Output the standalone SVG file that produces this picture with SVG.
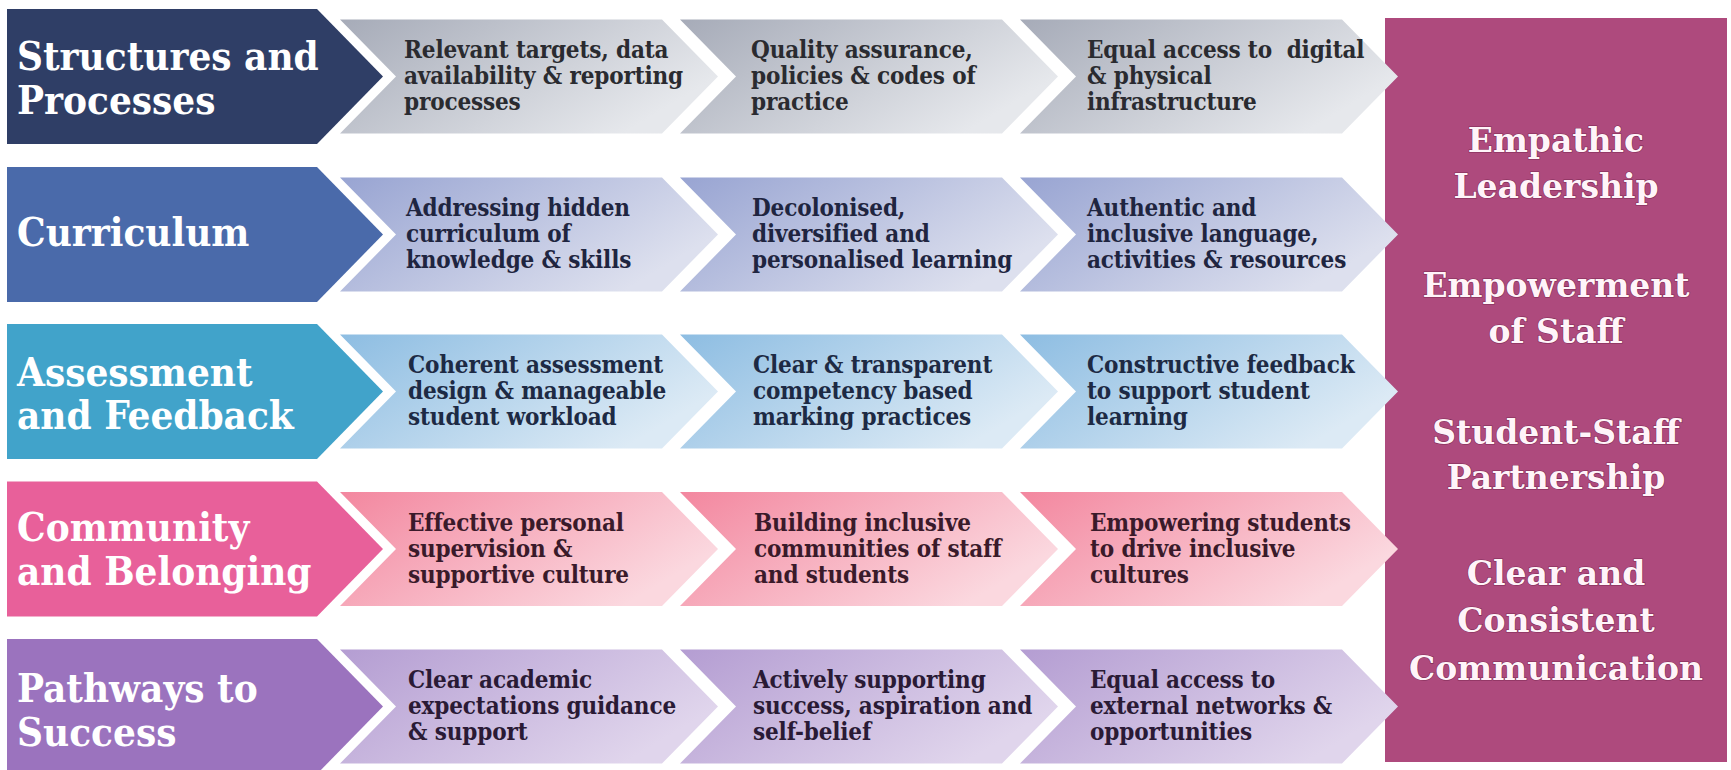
<svg xmlns="http://www.w3.org/2000/svg" width="1731" height="770" viewBox="0 0 1731 770">
<style>
.hd{font-family:"DejaVu Serif Condensed","DejaVu Serif",serif;font-stretch:condensed;font-weight:bold;font-size:40px;fill:#ffffff}
.ct{font-family:"DejaVu Serif Condensed","DejaVu Serif",serif;font-stretch:condensed;font-weight:bold;font-size:24px;letter-spacing:-0.15px}
.rt{font-family:"DejaVu Serif","Liberation Serif",serif;font-weight:bold;font-size:33px;fill:#fff4f9;text-anchor:middle;stroke:#7e2a55;stroke-width:1.2;paint-order:stroke}
</style>
<defs>
<linearGradient id="g1" x1="0" y1="0" x2="1" y2="0.5"><stop offset="0" stop-color="#a6abb8"/><stop offset="1" stop-color="#e6e8ec"/></linearGradient>
<linearGradient id="g2" x1="0" y1="0" x2="1" y2="0.5"><stop offset="0" stop-color="#98a4d2"/><stop offset="1" stop-color="#dde0ee"/></linearGradient>
<linearGradient id="g3" x1="0" y1="0" x2="1" y2="0.5"><stop offset="0" stop-color="#8dbde2"/><stop offset="1" stop-color="#dceaf5"/></linearGradient>
<linearGradient id="g4" x1="0" y1="0" x2="1" y2="0.5"><stop offset="0" stop-color="#f3879f"/><stop offset="1" stop-color="#fbd8df"/></linearGradient>
<linearGradient id="g5" x1="0" y1="0" x2="1" y2="0.5"><stop offset="0" stop-color="#b49dd2"/><stop offset="1" stop-color="#e0d5ec"/></linearGradient>
</defs>
<rect width="1731" height="770" fill="#ffffff"/>
<g id="values">
<rect x="1385" y="18" width="342" height="744" fill="#ae4a7d"/>
<text class="rt"><tspan x="1556" y="152">Empathic</tspan><tspan x="1556" y="198">Leadership</tspan><tspan x="1556" y="297">Empowerment</tspan><tspan x="1556" y="343">of Staff</tspan><tspan x="1556" y="444">Student-Staff</tspan><tspan x="1556" y="489">Partnership</tspan><tspan x="1556" y="585">Clear and</tspan><tspan x="1556" y="632">Consistent</tspan><tspan x="1556" y="680">Communication</tspan></text>
</g>
<g id="row1">
<polygon points="7,9 317,9 383,76.5 317,144 7,144" fill="#2f3e66"/>
<text class="hd"><tspan x="17" y="70">Structures and</tspan><tspan x="17" y="114">Processes</tspan></text>
<polygon points="340,19.5 662,19.5 718,76.5 662,133.5 340,133.5 396,76.5" fill="url(#g1)"/>
<polygon points="680,19.5 1002,19.5 1058,76.5 1002,133.5 680,133.5 736,76.5" fill="url(#g1)"/>
<polygon points="1020,19.5 1342,19.5 1398,76.5 1342,133.5 1020,133.5 1076,76.5" fill="url(#g1)"/>
<text class="ct" fill="#2a2b30"><tspan x="404" y="58">Relevant targets, data</tspan><tspan x="404" y="84">availability &amp; reporting</tspan><tspan x="404" y="110">processes</tspan></text>
<text class="ct" fill="#2a2b30"><tspan x="751" y="58">Quality assurance,</tspan><tspan x="751" y="84">policies &amp; codes of</tspan><tspan x="751" y="110">practice</tspan></text>
<text class="ct" fill="#2a2b30" xml:space="preserve"><tspan x="1087" y="58">Equal access to  digital</tspan><tspan x="1087" y="84">&amp; physical</tspan><tspan x="1087" y="110">infrastructure</tspan></text>
</g>
<g id="row2">
<polygon points="7,167 317,167 383,234.5 317,302 7,302" fill="#4a6aaa"/>
<text class="hd"><tspan x="17" y="246">Curriculum</tspan></text>
<polygon points="340,177.5 662,177.5 718,234.5 662,291.5 340,291.5 396,234.5" fill="url(#g2)"/>
<polygon points="680,177.5 1002,177.5 1058,234.5 1002,291.5 680,291.5 736,234.5" fill="url(#g2)"/>
<polygon points="1020,177.5 1342,177.5 1398,234.5 1342,291.5 1020,291.5 1076,234.5" fill="url(#g2)"/>
<text class="ct" fill="#1f2540"><tspan x="406" y="216">Addressing hidden</tspan><tspan x="406" y="242">curriculum of</tspan><tspan x="406" y="268">knowledge &amp; skills</tspan></text>
<text class="ct" fill="#1f2540"><tspan x="752" y="216">Decolonised,</tspan><tspan x="752" y="242">diversified and</tspan><tspan x="752" y="268">personalised learning</tspan></text>
<text class="ct" fill="#1f2540"><tspan x="1087" y="216">Authentic and</tspan><tspan x="1087" y="242">inclusive language,</tspan><tspan x="1087" y="268">activities &amp; resources</tspan></text>
</g>
<g id="row3">
<polygon points="7,324 317,324 383,391.5 317,459 7,459" fill="#41a3ca"/>
<text class="hd"><tspan x="17" y="386">Assessment</tspan><tspan x="17" y="429">and Feedback</tspan></text>
<polygon points="340,334.5 662,334.5 718,391.5 662,448.5 340,448.5 396,391.5" fill="url(#g3)"/>
<polygon points="680,334.5 1002,334.5 1058,391.5 1002,448.5 680,448.5 736,391.5" fill="url(#g3)"/>
<polygon points="1020,334.5 1342,334.5 1398,391.5 1342,448.5 1020,448.5 1076,391.5" fill="url(#g3)"/>
<text class="ct" fill="#1d2a44"><tspan x="408" y="373">Coherent assessment</tspan><tspan x="408" y="399">design &amp; manageable</tspan><tspan x="408" y="425">student workload</tspan></text>
<text class="ct" fill="#1d2a44"><tspan x="753" y="373">Clear &amp; transparent</tspan><tspan x="753" y="399">competency based</tspan><tspan x="753" y="425">marking practices</tspan></text>
<text class="ct" fill="#1d2a44"><tspan x="1087" y="373">Constructive feedback</tspan><tspan x="1087" y="399">to support student</tspan><tspan x="1087" y="425">learning</tspan></text>
</g>
<g id="row4">
<polygon points="7,481.5 317,481.5 383,549 317,616.5 7,616.5" fill="#e8609a"/>
<text class="hd"><tspan x="17" y="541">Community</tspan><tspan x="17" y="585">and Belonging</tspan></text>
<polygon points="340,492 662,492 718,549 662,606 340,606 396,549" fill="url(#g4)"/>
<polygon points="680,492 1002,492 1058,549 1002,606 680,606 736,549" fill="url(#g4)"/>
<polygon points="1020,492 1342,492 1398,549 1342,606 1020,606 1076,549" fill="url(#g4)"/>
<text class="ct" fill="#3a1a2a"><tspan x="408" y="531">Effective personal</tspan><tspan x="408" y="557">supervision &amp;</tspan><tspan x="408" y="583">supportive culture</tspan></text>
<text class="ct" fill="#3a1a2a"><tspan x="754" y="531">Building inclusive</tspan><tspan x="754" y="557">communities of staff</tspan><tspan x="754" y="583">and students</tspan></text>
<text class="ct" fill="#3a1a2a"><tspan x="1090" y="531">Empowering students</tspan><tspan x="1090" y="557">to drive inclusive</tspan><tspan x="1090" y="583">cultures</tspan></text>
</g>
<g id="row5">
<polygon points="7,639 317,639 383,706.5 317,774 7,774" fill="#9b73be"/>
<text class="hd"><tspan x="17" y="702">Pathways to</tspan><tspan x="17" y="746">Success</tspan></text>
<polygon points="340,649.5 662,649.5 718,706.5 662,763.5 340,763.5 396,706.5" fill="url(#g5)"/>
<polygon points="680,649.5 1002,649.5 1058,706.5 1002,763.5 680,763.5 736,706.5" fill="url(#g5)"/>
<polygon points="1020,649.5 1342,649.5 1398,706.5 1342,763.5 1020,763.5 1076,706.5" fill="url(#g5)"/>
<text class="ct" fill="#2a1a35"><tspan x="408" y="688">Clear academic</tspan><tspan x="408" y="714">expectations guidance</tspan><tspan x="408" y="740">&amp; support</tspan></text>
<text class="ct" fill="#2a1a35"><tspan x="753" y="688">Actively supporting</tspan><tspan x="753" y="714">success, aspiration and</tspan><tspan x="753" y="740">self-belief</tspan></text>
<text class="ct" fill="#2a1a35"><tspan x="1090" y="688">Equal access to</tspan><tspan x="1090" y="714">external networks &amp;</tspan><tspan x="1090" y="740">opportunities</tspan></text>
</g>
<g id="connectors"></g>
</svg>
